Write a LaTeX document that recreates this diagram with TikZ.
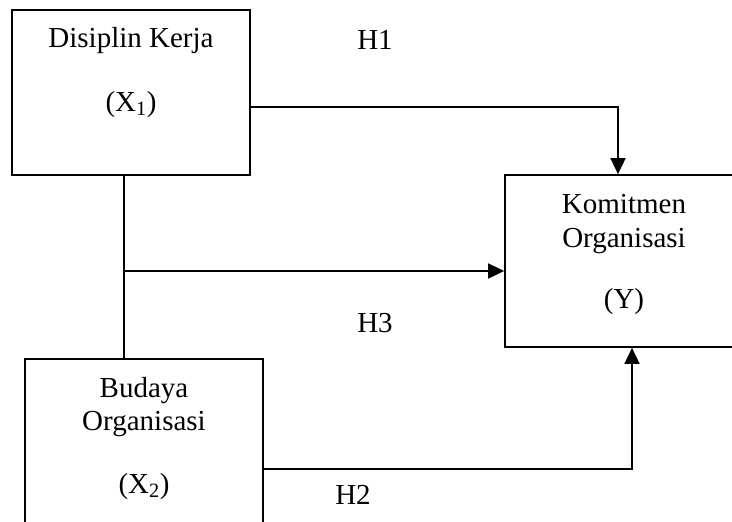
\documentclass[tikz,border=0pt]{standalone}
\usepackage{fontspec}
\setmainfont{Liberation Serif}
\usetikzlibrary{arrows.meta}
\begin{document}
\begin{tikzpicture}[x=1pt,y=-1pt,
  box/.style={draw,line width=1.7pt,rectangle,inner sep=0pt},
  lbl/.style={inner sep=0pt,anchor=base,font=\fontsize{29}{34}\selectfont},
  hlbl/.style={inner sep=0pt,font=\fontsize{29}{34}\selectfont},
  conn/.style={line width=1.7pt},
  arr/.style={line width=1.7pt,-{Triangle[length=16pt,width=15pt]}}]
\useasboundingbox (0,0) rectangle (732,522);
\clip (0,0) rectangle (732,522);
% boxes
\node[box,minimum width=238pt,minimum height=165pt] (b1) at (131,92.5) {};
\node[box,minimum width=238pt,minimum height=172pt] (y) at (624,261) {};
\node[box,minimum width=238pt,minimum height=190pt] (b3) at (144,454) {};
% box texts
\node[lbl] (t1a) at (131,47) {Disiplin Kerja};
\node[lbl] (t1b) at (131,111) {(X\textsubscript{1})};
\node[lbl] (tya) at (624,213) {Komitmen};
\node[lbl] (tyb) at (624,247) {Organisasi};
\node[lbl] (tyc) at (624,308) {(Y)};
\node[lbl] (t3a) at (144,397) {Budaya};
\node[lbl] (t3b) at (144,430) {Organisasi};
\node[lbl] (t3c) at (144,493) {(X\textsubscript{2})};
% hypothesis labels
\node[hlbl] (h1) at (375,40) {H1};
\node[hlbl] (h3) at (375,323) {H3};
\node[hlbl] (h2) at (353,495) {H2};
% connectors
\coordinate (j) at (124,271);
\draw[arr] (b1.east |- 0,107) -| (y.north -| 618,0);
\draw[conn] (b1.south -| j) -- (b3.north -| j);
\draw[arr] (j) -- (y.west |- j);
\draw[arr] (b3.east |- 0,469) -| (y.south -| 632,0);
\end{tikzpicture}
\end{document}
